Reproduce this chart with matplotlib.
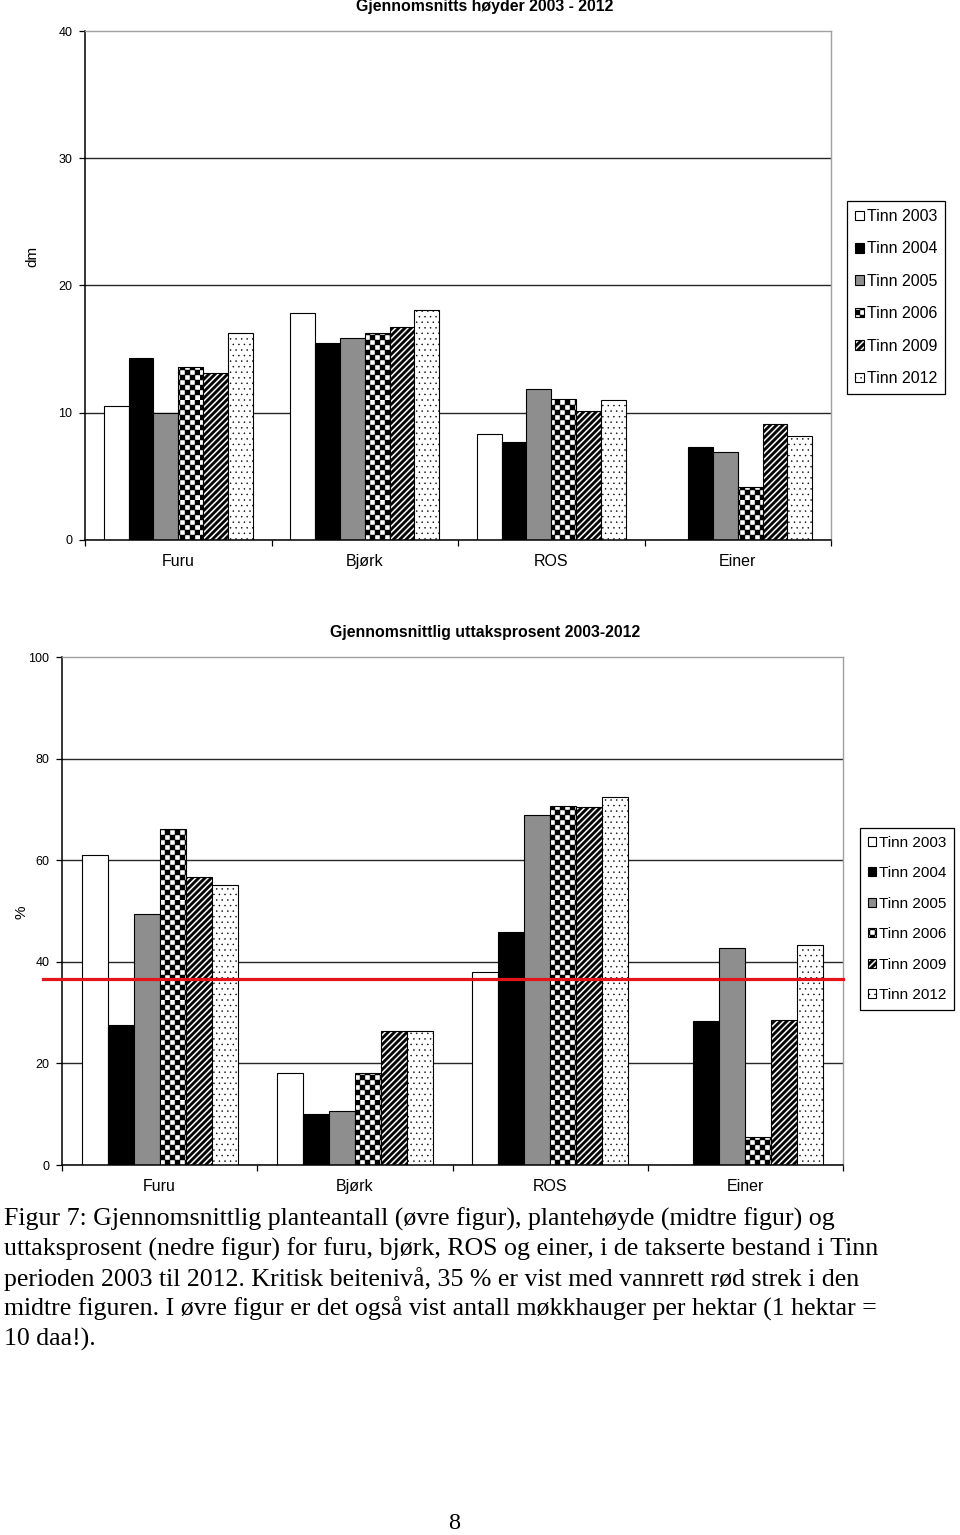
import numpy as np
import matplotlib
matplotlib.use("Agg")
import matplotlib.pyplot as plt
import matplotlib.transforms as mtransforms
from matplotlib import hatch as mhatch
from matplotlib.path import Path

# === DATA ===
categories = ["Furu", "Bjørk", "ROS", "Einer"]
series_labels = ["Tinn 2003", "Tinn 2004", "Tinn 2005", "Tinn 2006", "Tinn 2009", "Tinn 2012"]

# Gjennomsnittshøyde (dm) per år: Furu, Bjørk, ROS, Einer
hoyde_2003 = [10.5, 17.8, 8.3, 0.0]
hoyde_2004 = [14.3, 15.5, 7.7, 7.3]
hoyde_2005 = [10.0, 15.9, 11.9, 6.9]
hoyde_2006 = [13.6, 16.3, 11.1, 4.2]
hoyde_2009 = [13.1, 16.7, 10.1, 9.1]
hoyde_2012 = [16.3, 18.1, 11.0, 8.2]

# Uttaksprosent (%) per år: Furu, Bjørk, ROS, Einer
uttak_2003 = [61.0, 18.2, 38.0, 0.0]
uttak_2004 = [27.6, 10.1, 45.8, 28.4]
uttak_2005 = [49.5, 10.6, 68.9, 42.8]
uttak_2006 = [66.2, 18.2, 70.7, 5.6]
uttak_2009 = [56.6, 26.4, 70.4, 28.6]
uttak_2012 = [55.1, 26.4, 72.5, 43.4]

kritisk_niva = 36.7

hoyde_ticks = [0, 10, 20, 30, 40]
uttak_ticks = [0, 20, 40, 60, 80, 100]

caption_lines = [
    "Figur 7: Gjennomsnittlig planteantall (øvre figur), plantehøyde (midtre figur) og",
    "uttaksprosent (nedre figur) for furu, bjørk, ROS og einer, i de takserte bestand i Tinn",
    "perioden 2003 til 2012. Kritisk beitenivå, 35 % er vist med vannrett rød strek i den",
    "midtre figuren. I øvre figur er det også vist antall møkkhauger per hektar (1 hektar =",
    "10 daa!).",
]

# farge og mønster per serie
styles = [("white", None), ("black", None), ("#8e8e8e", None),
          ("white", "****"), ("white", "////"), ("white", "...")]

SANS = "Liberation Sans"
SERIF = "Liberation Serif"


# --- egne skraveringer: sjakkbrett for '*' og tykke striper for '/' ---
class Sjakkbrett(mhatch.HatchPatternBase):
    def __init__(self, hatch, density):
        # 5 ruter per '*' -> 20 ruter per tomme, hele piksler ved 100 dpi
        self.n = hatch.count('*') * 5
        if self.n % 2:
            self.n += 1
        self.num_vertices = (self.n * self.n // 2) * 5

    def set_vertices_and_codes(self, vertices, codes):
        n = self.n
        s = 1.0 / n
        k = 0
        for i in range(n):
            for j in range(n):
                if (i + j) % 2:
                    continue
                x0, y0 = i * s, j * s
                vertices[k:k + 5] = [(x0, y0), (x0 + s, y0), (x0 + s, y0 + s),
                                     (x0, y0 + s), (x0, y0)]
                codes[k:k + 5] = [Path.MOVETO, Path.LINETO, Path.LINETO,
                                  Path.LINETO, Path.CLOSEPOLY]
                k += 5


class TykkeStriper(mhatch.HatchPatternBase):
    def __init__(self, hatch, density):
        self.n = hatch.count('/') * 4
        self.num_vertices = (2 * self.n + 2) * 5 if self.n else 0

    def set_vertices_and_codes(self, vertices, codes):
        n = self.n
        w = 0.55 / n
        k = 0
        for i in range(-n - 1, n + 1):
            c = i / n
            vertices[k:k + 5] = [(c, 0), (c + w, 0), (c + w + 1, 1), (c + 1, 1), (c, 0)]
            codes[k:k + 5] = [Path.MOVETO, Path.LINETO, Path.LINETO,
                              Path.LINETO, Path.CLOSEPOLY]
            k += 5


mhatch._hatch_types[mhatch._hatch_types.index(mhatch.NorthEastHatch)] = TykkeStriper
mhatch._hatch_types[mhatch._hatch_types.index(mhatch.Stars)] = Sjakkbrett

plt.rcParams['hatch.linewidth'] = 0.3
plt.rcParams['font.family'] = [SANS, 'DejaVu Sans']

W, H = 960, 1535


def fx(px):
    return px / W


def fy(py):
    return 1 - py / H


def draw_bars(ax, values, ymax, ticks):
    x = np.arange(len(categories))
    width = 0.8 / len(values)
    handles = []
    for i, vals in enumerate(values):
        color, hatch = styles[i]
        bars = ax.bar(x - 0.4 + width * (i + 0.5), vals, width,
                      color=color, edgecolor='black', linewidth=0.8,
                      hatch=hatch, label=series_labels[i], zorder=2)
        handles.append(bars)

    ax.set_xlim(-0.5, len(categories) - 0.5)
    ax.set_ylim(0, ymax)
    ax.set_yticks(ticks)
    ax.set_yticklabels([str(t) for t in ticks], fontsize=9)
    ax.tick_params(axis='y', direction='out', length=4, width=0.9, pad=5)

    ax.set_xticks(x)
    ax.set_xticklabels(categories, fontsize=11.5)
    ax.tick_params(axis='x', which='major', length=0, pad=10)
    ax.set_xticks(np.arange(-0.5, len(categories), 1), minor=True)
    ax.tick_params(axis='x', which='minor', direction='out', length=4, width=0.9)

    ax.set_axisbelow(True)
    ax.yaxis.grid(True, color='#262626', linewidth=1.0)
    ax.yaxis.get_gridlines()[-1].set_visible(False)
    for side in ['top', 'right']:
        ax.spines[side].set_color('#a0a0a0')
        ax.spines[side].set_linewidth(1.0)
    for side in ['left', 'bottom']:
        ax.spines[side].set_color('black')
        ax.spines[side].set_linewidth(1.1)
    return handles


def add_legend(ax, fig, handles, left, top, size, spacing):
    leg = ax.legend(handles, series_labels, loc='upper left',
                    bbox_to_anchor=(fx(left), fy(top)), bbox_transform=fig.transFigure,
                    borderaxespad=0, fontsize=size, frameon=True, fancybox=False,
                    framealpha=1, edgecolor='black', handlelength=0.55,
                    handleheight=0.55, handletextpad=0.2, labelspacing=spacing,
                    borderpad=0.5)
    leg.get_frame().set_linewidth(0.9)


fig = plt.figure(figsize=(W / 100, H / 100), dpi=100)

# --- øvre figur: høyder ---
ax1 = fig.add_axes([fx(85), fy(540), (831 - 85) / W, (540 - 31) / H])
h1 = draw_bars(ax1, [hoyde_2003, hoyde_2004, hoyde_2005, hoyde_2006, hoyde_2009, hoyde_2012],
               40, hoyde_ticks)
add_legend(ax1, fig, h1, 847, 201, 11.5, 1.09)
fig.text(fx(485), fy(7), "Gjennomsnitts høyder 2003 - 2012", ha='center', va='center',
         fontsize=11.4, fontweight='bold')
fig.text(fx(32), fy(256), "dm", rotation=90, ha='center', va='center', fontsize=11)

# --- nedre figur: uttaksprosent ---
ax2 = fig.add_axes([fx(62), fy(1165), (843 - 62) / W, (1165 - 657) / H])
h2 = draw_bars(ax2, [uttak_2003, uttak_2004, uttak_2005, uttak_2006, uttak_2009, uttak_2012],
               100, uttak_ticks)
add_legend(ax2, fig, h2, 860, 828, 11.0, 1.08)
fig.text(fx(485), fy(632), "Gjennomsnittlig uttaksprosent 2003-2012", ha='center',
         va='center', fontsize=11.4, fontweight='bold')
fig.text(fx(22), fy(912), "%", rotation=90, ha='center', va='center', fontsize=11)

# kritisk beitenivå
trans = mtransforms.blended_transform_factory(ax2.transAxes, ax2.transData)
ax2.plot([-0.024, 1.0], [kritisk_niva, kritisk_niva], transform=trans,
         color='#e5141c', linewidth=2.3, clip_on=False, zorder=5)

# --- figurtekst ---
for i, line in enumerate(caption_lines):
    fig.text(fx(4), fy(1226 + 30 * i), line, ha='left', va='baseline',
             fontsize=18.6, family=[SERIF, 'DejaVu Serif'])
fig.text(fx(454), fy(1529), "8", ha='center', va='baseline', fontsize=17.5,
         family=[SERIF, 'DejaVu Serif'])

fig.savefig("out.png", dpi=100)
